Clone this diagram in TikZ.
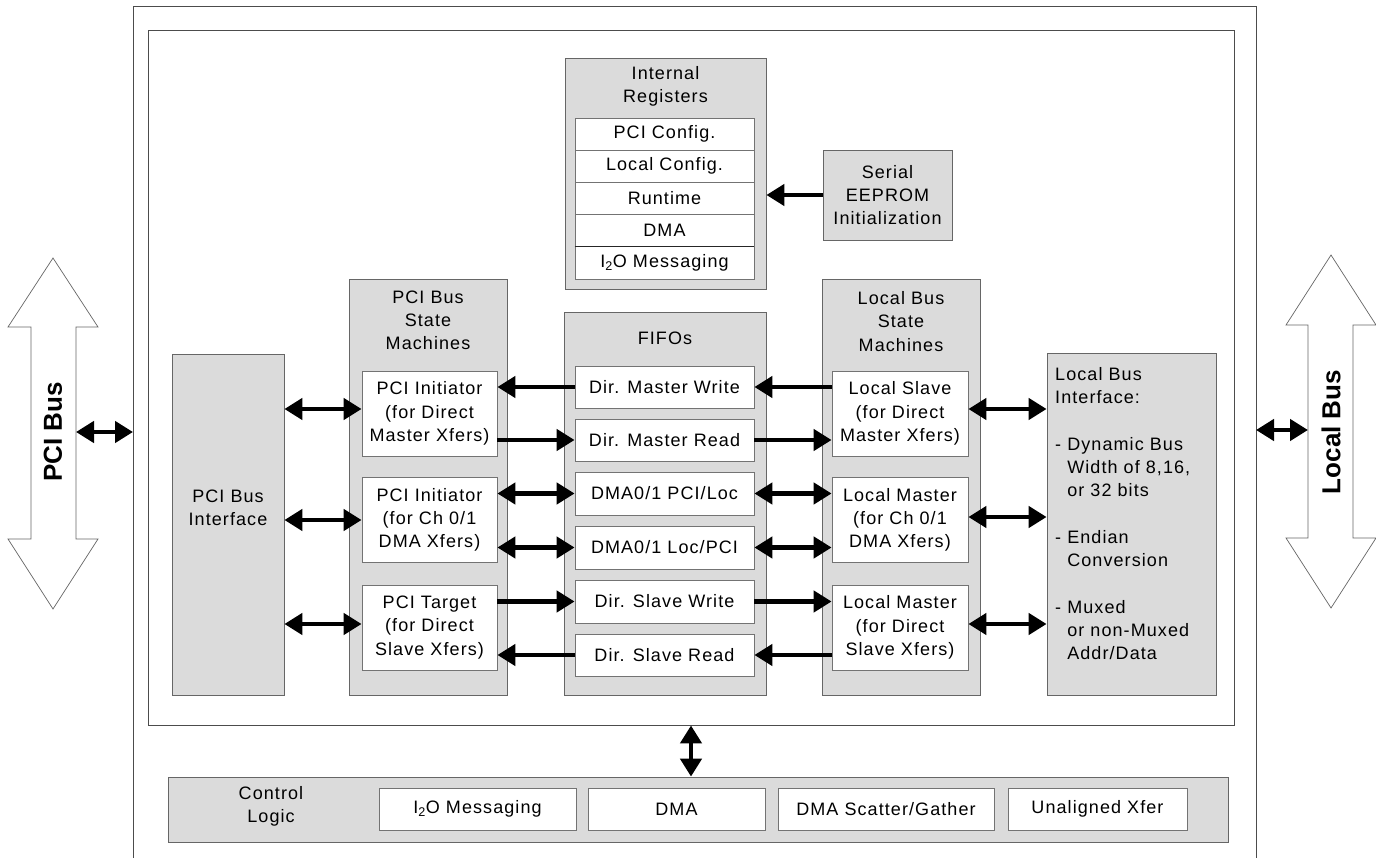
\documentclass[tikz,border=0pt]{standalone}
\usepackage{fontspec}
\setmainfont{Liberation Sans}[LetterSpace=6]
\newfontfamily\busfont{Liberation Sans}
\usetikzlibrary{arrows.meta}
\begin{document}
\begin{tikzpicture}[x=1pt,y=-1pt, font=\fontsize{18}{23.3}\selectfont,
  shadebox/.style={draw=black!60, line width=0.8pt, fill=black!14, inner sep=0pt, align=center},
  whitebox/.style={draw=black!55, line width=0.8pt, fill=white, inner sep=0pt, align=center},
  lbl/.style={inner sep=0pt, align=center},
  frameline/.style={draw=black!70, line width=0.9pt},
  arr/.style={line width=4.5pt, -{Triangle[length=18pt,width=21pt]}},
  darr/.style={line width=4.5pt, {Triangle[length=18pt,width=21pt]}-{Triangle[length=18pt,width=21pt]}},
  busarrow/.style={draw=black!60, line width=0.7pt, fill=white},
  busfontstyle/.style={font=\busfont\bfseries\fontsize{26}{30}\selectfont}
]
\useasboundingbox (0,0) rectangle (1376,858);

% frames
\draw[frameline] (133,880) -- (133,6) -- (1256,6) -- (1256,880);
\node[draw=black!70, line width=0.9pt, minimum width=1086, minimum height=695, inner sep=0pt] (inner) at (691,377.5) {};

% Internal registers
\node[shadebox, minimum width=201, minimum height=231] (intreg) at (665.5,173.5) {};
\node[lbl] (intregT) at (665.5,86.5) {Internal\\Registers};
\node[whitebox, minimum width=179, minimum height=32.2] (rA) at (664.5,134.1) {PCI Config.};
\node[whitebox, minimum width=179, minimum height=32.2] (rB) at (664.5,166.3) {Local Config.};
\node[whitebox, minimum width=179, minimum height=32.2] (rC) at (664.5,198.5) {Runtime};
\node[whitebox, minimum width=179, minimum height=32.2] (rD) at (664.5,230.7) {DMA};
\node[whitebox, minimum width=179, minimum height=32.2] (rE) at (664.5,262.9) {I\textsubscript{2}O Messaging};
\draw[black!85, line width=1pt] (rE.north west) -- (rE.north east);

% Serial EEPROM
\node[shadebox, minimum width=129, minimum height=90] (eeprom) at (887.5,195) {Serial\\EEPROM\\Initialization};
\draw[arr] (eeprom.west) -- (eeprom.west -| intreg.east);

% PCI bus state machines
\node[shadebox, minimum width=158, minimum height=416] (pcism) at (428,487) {};
\node[lbl] (pcismT) at (428,320.5) {PCI Bus\\State\\Machines};
\node[whitebox, minimum width=135, minimum height=85] (pi1) at (429.5,413.5) {PCI Initiator\\(for Direct\\Master Xfers)};
\node[whitebox, minimum width=135, minimum height=85] (pi2) at (429.5,520) {PCI Initiator\\(for Ch 0/1\\DMA Xfers)};
\node[whitebox, minimum width=135, minimum height=85] (pt) at (429.5,627.5) {PCI Target\\(for Direct\\Slave Xfers)};

% FIFOs
\node[shadebox, minimum width=202, minimum height=383] (fifos) at (665,503.5) {};
\node[lbl] (fifosT) at (665,338) {FIFOs};
\node[whitebox, minimum width=179, minimum height=42] (f1) at (664.5,387) {Dir. Master Write};
\node[whitebox, minimum width=179, minimum height=42] (f2) at (664.5,440) {Dir. Master Read};
\node[whitebox, minimum width=179, minimum height=43] (f3) at (664.5,493.5) {DMA0/1 PCI/Loc};
\node[whitebox, minimum width=179, minimum height=43] (f4) at (664.5,547.5) {DMA0/1 Loc/PCI};
\node[whitebox, minimum width=179, minimum height=43] (f5) at (664.5,601.5) {Dir. Slave Write};
\node[whitebox, minimum width=179, minimum height=42] (f6) at (664.5,655) {Dir. Slave Read};

% Local bus state machines
\node[shadebox, minimum width=158, minimum height=416] (locsm) at (901,487) {};
\node[lbl] (locsmT) at (901,321.5) {Local Bus\\State\\Machines};
\node[whitebox, minimum width=136, minimum height=85] (ls) at (900,413.5) {Local Slave\\(for Direct\\Master Xfers)};
\node[whitebox, minimum width=136, minimum height=85] (lm1) at (900,520) {Local Master\\(for Ch 0/1\\DMA Xfers)};
\node[whitebox, minimum width=136, minimum height=85] (lm2) at (900,627.5) {Local Master\\(for Direct\\Slave Xfers)};

% PCI bus interface
\node[shadebox, minimum width=112, minimum height=341] (pcibi) at (228,524.5) {};
\node[lbl] (pcibiT) at (228,508) {PCI Bus\\Interface};

% Local bus interface
\node[shadebox, minimum width=169, minimum height=342] (lbi) at (1131.5,524) {};
\node[lbl, align=left, anchor=north west] (lbiT) at (1055,367) {Local Bus\\Interface:\\[23.3pt]- Dynamic Bus\\\hphantom{- }Width of 8,16,\\\hphantom{- }or 32 bits\\[23.3pt]- Endian\\\hphantom{- }Conversion\\[23.3pt]- Muxed\\\hphantom{- }or non-Muxed\\\hphantom{- }Addr/Data};

% arrows PCI SM <-> FIFOs
\draw[arr] (f1.west) -- (f1.west -| pi1.east);
\draw[arr] (pi1.east |- f2.west) -- (f2.west);
\draw[darr] (pi2.east |- f3.west) -- (f3.west);
\draw[darr] (pi2.east |- f4.west) -- (f4.west);
\draw[arr] (pt.east |- f5.west) -- (f5.west);
\draw[arr] (f6.west) -- (f6.west -| pt.east);

% arrows FIFOs <-> Local SM
\draw[arr] (ls.west |- f1.east) -- (f1.east);
\draw[arr] (f2.east) -- (f2.east -| ls.west);
\draw[darr] (f3.east) -- (f3.east -| lm1.west);
\draw[darr] (f4.east) -- (f4.east -| lm1.west);
\draw[arr] (f5.east) -- (f5.east -| lm2.west);
\draw[arr] (lm2.west |- f6.east) -- (f6.east);

% arrows PCI BI <-> PCI SM
\draw[darr] ([yshift=4.5pt]pcibi.east |- pi1.west) -- ([yshift=4.5pt]pi1.west);
\draw[darr] (pcibi.east |- pi2.west) -- (pi2.west);
\draw[darr] ([yshift=3.5pt]pcibi.east |- pt.west) -- ([yshift=3.5pt]pt.west);

% arrows Local SM <-> LBI
\draw[darr] ([yshift=4.5pt]ls.east) -- ([yshift=4.5pt]ls.east -| lbi.west);
\draw[darr] ([yshift=3pt]lm1.east) -- ([yshift=3pt]lm1.east -| lbi.west);
\draw[darr] ([yshift=3.5pt]lm2.east) -- ([yshift=3.5pt]lm2.east -| lbi.west);

% Control logic
\node[shadebox, minimum width=1060, minimum height=65] (ctrl) at (698,809.5) {};
\node[lbl] (ctrlT) at (271,806.5) {Control\\Logic};
\node[whitebox, minimum width=197, minimum height=42] (cA) at (477.5,809) {I\textsubscript{2}O Messaging};
\node[whitebox, minimum width=177, minimum height=42] (cB) at (676.5,809) {DMA};
\node[whitebox, minimum width=216, minimum height=42] (cC) at (886,809) {DMA Scatter/Gather};
\node[whitebox, minimum width=179, minimum height=42] (cD) at (1097.5,809) {Unaligned Xfer};
\draw[darr] (inner.south) -- (inner.south |- ctrl.north);

% PCI bus arrow
\draw[busarrow] (53,258) -- (98,327) -- (76,327) -- (76,539) -- (98,539) -- (53,609) -- (8,539) -- (31,539) -- (31,327) -- (8,327) -- cycle;
\node[lbl, rotate=90, busfontstyle] (pcibus) at (53,432) {PCI Bus};
\coordinate (pbE) at (76,432);
\coordinate (outL) at (133,432);
\draw[darr] (pbE) -- (outL);

% Local bus arrow
\draw[busarrow] (1331,255) -- (1376,325) -- (1353,325) -- (1353,538) -- (1376,538) -- (1331,608) -- (1286,538) -- (1308,538) -- (1308,325) -- (1286,325) -- cycle;
\node[lbl, rotate=90, busfontstyle] (locbus) at (1331,432) {Local Bus};
\coordinate (lbW) at (1308,430);
\coordinate (outR) at (1256,430);
\draw[darr] (outR) -- (lbW);
\end{tikzpicture}
\end{document}
